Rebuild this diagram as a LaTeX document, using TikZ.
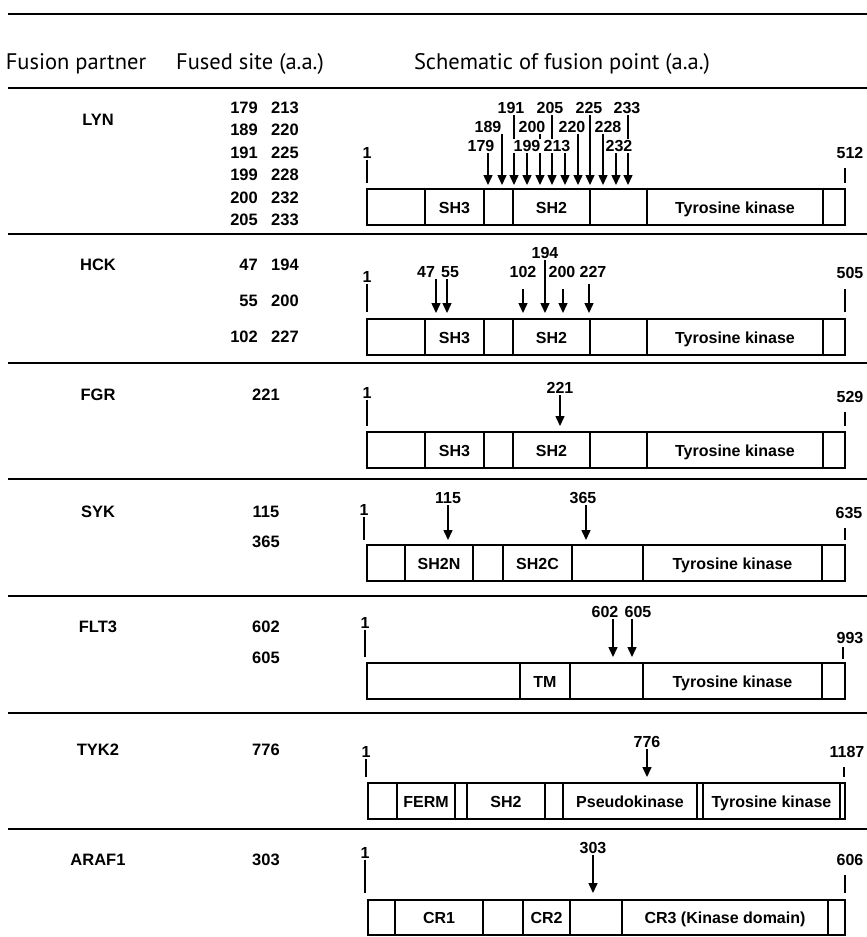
\documentclass[tikz,border=0pt]{standalone}
\usepackage{fontspec}
\setmainfont{Liberation Sans}
\newfontfamily\headfont{PT Sans}
\usetikzlibrary{arrows.meta}
\pgfdeclarelayer{back}
\pgfsetlayers{back,main}

\begin{document}
\begin{tikzpicture}[x=1pt, y=-1pt,
  rule/.style={line width=2.6pt},
  dom/.style={line width=1.5pt},
  head/.style={font=\headfont\fontsize{22.5}{25}\selectfont, inner sep=0pt, anchor=base},
  prot/.style={font=\bfseries\fontsize{16.5}{18}\selectfont, inner sep=0pt},
  site/.style={font=\bfseries\fontsize{16.5}{18}\selectfont, inner sep=0pt},
  num/.style={font=\bfseries\fontsize{16}{18}\selectfont, inner sep=1pt, fill=white},
  dlab/.style={font=\bfseries\fontsize{16}{18}\selectfont, inner sep=0pt, anchor=base},
  tick/.style={line width=1.5pt},
  arr/.style={line width=1.5pt, -{Triangle[width=9pt,length=10pt]}},
]
  \useasboundingbox (0,0) rectangle (867,937);

  % table rules
  \draw[rule] (8,14) -- (867,14);
  \draw[rule] (8,88) -- (867,88);
  \draw[rule] (8,234) -- (867,234);
  \draw[rule] (8,363) -- (867,363);
  \draw[rule] (8,479) -- (867,479);
  \draw[rule] (8,596) -- (867,596);
  \draw[rule] (8,713) -- (867,713);
  \draw[rule] (8,829) -- (867,829);

  % header
  \node[head] (hpart) at (76,69) {Fusion partner};
  \node[head] (hsite) at (250,69) {Fused site (a.a.)};
  \node[head] (hfig) at (562,69) {Schematic of fusion point (a.a.)};

  % ---- LYN
  \node[prot] (lyn) at (98,120) {LYN};
  \node[site, anchor=east] (lynA1) at (258,108) {179};
  \node[site, anchor=west] (lynB1) at (271,108) {213};
  \node[site, anchor=east] (lynA2) at (258,130) {189};
  \node[site, anchor=west] (lynB2) at (271,130) {220};
  \node[site, anchor=east] (lynA3) at (258,153) {191};
  \node[site, anchor=west] (lynB3) at (271,153) {225};
  \node[site, anchor=east] (lynA4) at (258,175) {199};
  \node[site, anchor=west] (lynB4) at (271,175) {228};
  \node[site, anchor=east] (lynA5) at (258,198) {200};
  \node[site, anchor=west] (lynB5) at (271,198) {232};
  \node[site, anchor=east] (lynA6) at (258,220) {205};
  \node[site, anchor=west] (lynB6) at (271,220) {233};

  \draw[dom] (367,189) rectangle (845,225);
  \draw[dom] (425,189) -- ++(0,36) (484,189) -- ++(0,36) (513,189) -- ++(0,36)
    (590,189) -- ++(0,36) (647,189) -- ++(0,36) (823,189) -- ++(0,36);
  \node[dlab] (lynSH3) at (454.5,213) {SH3};
  \node[dlab] (lynSH2) at (551.5,213) {SH2};
  \node[dlab] (lynTK) at (735,213) {Tyrosine kinase};

  \node[num] (lynN) at (367,153) {1};
  \coordinate (lynNt) at (367,183);
  \draw[tick] (lynN) -- (lynNt);
  \node[num] (lynC) at (850,153) {512};
  \coordinate (lynCt) at (845,183);
  \draw[tick, shorten <=8pt] (lynC.south -| lynCt) -- (lynCt);

  \node[num] (lynL191) at (511,108) {191};
  \node[num] (lynL205) at (550,108) {205};
  \node[num] (lynL225) at (589,108) {225};
  \node[num] (lynL233) at (627,108) {233};
  \node[num] (lynL189) at (488,127) {189};
  \node[num] (lynL200) at (532,127) {200};
  \node[num] (lynL220) at (572,127) {220};
  \node[num] (lynL228) at (608,127) {228};
  \node[num] (lynL179) at (481,146) {179};
  \node[num] (lynL199) at (527,146) {199};
  \node[num] (lynL213) at (557,146) {213};
  \node[num] (lynL232) at (619,146) {232};
  \coordinate (lynT179) at (488,185);
  \coordinate (lynT189) at (502,185);
  \coordinate (lynT191) at (514,185);
  \coordinate (lynT199) at (527,185);
  \coordinate (lynT200) at (540,185);
  \coordinate (lynT205) at (552,185);
  \coordinate (lynT213) at (565,185);
  \coordinate (lynT220) at (578,185);
  \coordinate (lynT225) at (590,185);
  \coordinate (lynT228) at (603,185);
  \coordinate (lynT232) at (616,185);
  \coordinate (lynT233) at (628,185);
  \begin{pgfonlayer}{back}
    \draw[arr] (lynL179.south -| lynT179) -- (lynT179);
    \draw[arr] (lynL189.south -| lynT189) -- (lynT189);
    \draw[arr] (lynL191.south -| lynT191) -- (lynT191);
    \draw[arr] (lynL199.south -| lynT199) -- (lynT199);
    \draw[arr] (lynL200.south -| lynT200) -- (lynT200);
    \draw[arr] (lynL205.south -| lynT205) -- (lynT205);
    \draw[arr] (lynL213.south -| lynT213) -- (lynT213);
    \draw[arr] (lynL220.south -| lynT220) -- (lynT220);
    \draw[arr] (lynL225.south -| lynT225) -- (lynT225);
    \draw[arr] (lynL228.south -| lynT228) -- (lynT228);
    \draw[arr] (lynL232.south -| lynT232) -- (lynT232);
    \draw[arr] (lynL233.south -| lynT233) -- (lynT233);
  \end{pgfonlayer}

  % ---- HCK
  \node[prot] (hck) at (98,265) {HCK};
  \node[site, anchor=east] (hckA1) at (258,265) {47};
  \node[site, anchor=west] (hckB1) at (271,265) {194};
  \node[site, anchor=east] (hckA2) at (258,301) {55};
  \node[site, anchor=west] (hckB2) at (271,301) {200};
  \node[site, anchor=east] (hckA3) at (258,337) {102};
  \node[site, anchor=west] (hckB3) at (271,337) {227};

  \draw[dom] (367,319) rectangle (845,355);
  \draw[dom] (425,319) -- ++(0,36) (484,319) -- ++(0,36) (513,319) -- ++(0,36)
    (590,319) -- ++(0,36) (647,319) -- ++(0,36) (823,319) -- ++(0,36);
  \node[dlab] (hckSH3) at (454.5,343) {SH3};
  \node[dlab] (hckSH2) at (551.5,343) {SH2};
  \node[dlab] (hckTK) at (735,343) {Tyrosine kinase};

  \node[num] (hckN) at (367,277) {1};
  \coordinate (hckNt) at (367,312);
  \draw[tick] (hckN) -- (hckNt);
  \node[num] (hckC) at (850,273) {505};
  \coordinate (hckCt) at (845,312);
  \draw[tick, shorten <=9pt] (hckC.south -| hckCt) -- (hckCt);

  \node[num] (hckL47) at (426,272) {47};
  \node[num] (hckL55) at (450,272) {55};
  \node[num] (hckL102) at (523,272) {102};
  \node[num] (hckL194) at (545,253) {194};
  \node[num] (hckL200) at (562,272) {200};
  \node[num] (hckL227) at (593,272) {227};
  \coordinate (hckT47) at (436,313);
  \coordinate (hckT55) at (447,313);
  \coordinate (hckT102) at (523,313);
  \coordinate (hckT194) at (545,313);
  \coordinate (hckT200) at (563,313);
  \coordinate (hckT227) at (589,313);
  \begin{pgfonlayer}{back}
    \draw[arr] (hckL47.south -| hckT47) -- (hckT47);
    \draw[arr] (hckL55.south -| hckT55) -- (hckT55);
    \draw[arr, shorten <=10pt] (hckL102.south -| hckT102) -- (hckT102);
    \draw[arr] (hckL194.south -| hckT194) -- (hckT194);
    \draw[arr, shorten <=10pt] (hckL200.south -| hckT200) -- (hckT200);
    \draw[arr, shorten <=5pt] (hckL227.south -| hckT227) -- (hckT227);
  \end{pgfonlayer}

  % ---- FGR
  \node[prot] (fgr) at (98,395) {FGR};
  \node[site] (fgrA1) at (266,395) {221};

  \draw[dom] (367,432) rectangle (845,468);
  \draw[dom] (425,432) -- ++(0,36) (484,432) -- ++(0,36) (513,432) -- ++(0,36)
    (590,432) -- ++(0,36) (647,432) -- ++(0,36) (823,432) -- ++(0,36);
  \node[dlab] (fgrSH3) at (454.5,456) {SH3};
  \node[dlab] (fgrSH2) at (551.5,456) {SH2};
  \node[dlab] (fgrTK) at (735,456) {Tyrosine kinase};

  \node[num] (fgrN) at (367,393) {1};
  \coordinate (fgrNt) at (367,426);
  \draw[tick] (fgrN) -- (fgrNt);
  \node[num] (fgrC) at (850,397) {529};
  \coordinate (fgrCt) at (845,426);
  \draw[tick, shorten <=8pt] (fgrC.south -| fgrCt) -- (fgrCt);

  \node[num] (fgrL221) at (560,388) {221};
  \coordinate (fgrT221) at (560,426);
  \begin{pgfonlayer}{back}
    \draw[arr] (fgrL221.south -| fgrT221) -- (fgrT221);
  \end{pgfonlayer}

  % ---- SYK
  \node[prot] (syk) at (98,512) {SYK};
  \node[site] (sykA1) at (266,512) {115};
  \node[site] (sykA2) at (266,542) {365};

  \draw[dom] (367,545) rectangle (845,581);
  \draw[dom] (405,545) -- ++(0,36) (473,545) -- ++(0,36) (503,545) -- ++(0,36)
    (572,545) -- ++(0,36) (643,545) -- ++(0,36) (822,545) -- ++(0,36);
  \node[dlab] (sykSH2N) at (439,569) {SH2N};
  \node[dlab] (sykSH2C) at (537.5,569) {SH2C};
  \node[dlab] (sykTK) at (732.5,569) {Tyrosine kinase};

  \node[num] (sykN) at (364,510) {1};
  \coordinate (sykNt) at (364,540);
  \draw[tick] (sykN) -- (sykNt);
  \node[num] (sykC) at (849,513) {635};
  \coordinate (sykCt) at (845,540);
  \draw[tick, shorten <=8pt] (sykC.south -| sykCt) -- (sykCt);

  \node[num] (sykL115) at (448,498) {115};
  \node[num] (sykL365) at (583,498) {365};
  \coordinate (sykT115) at (448,540);
  \coordinate (sykT365) at (586,540);
  \begin{pgfonlayer}{back}
    \draw[arr] (sykL115.south -| sykT115) -- (sykT115);
    \draw[arr] (sykL365.south -| sykT365) -- (sykT365);
  \end{pgfonlayer}

  % ---- FLT3
  \node[prot] (flt) at (98,627) {FLT3};
  \node[site] (fltA1) at (266,627) {602};
  \node[site] (fltA2) at (266,658) {605};

  \draw[dom] (367,663) rectangle (845,699);
  \draw[dom] (520,663) -- ++(0,36) (570,663) -- ++(0,36) (643,663) -- ++(0,36)
    (822,663) -- ++(0,36);
  \node[dlab] (fltTM) at (545,687) {TM};
  \node[dlab] (fltTK) at (732.5,687) {Tyrosine kinase};

  \node[num] (fltN) at (365,623) {1};
  \coordinate (fltNt) at (365,657);
  \draw[tick] (fltN) -- (fltNt);
  \node[num] (fltC) at (850,638) {993};
  \coordinate (fltCt) at (843,659);
  \draw[tick, shorten <=2pt] (fltC.south -| fltCt) -- (fltCt);

  \node[num] (fltL602) at (605,612) {602};
  \node[num] (fltL605) at (638,612) {605};
  \coordinate (fltT602) at (613,657);
  \coordinate (fltT605) at (632,657);
  \begin{pgfonlayer}{back}
    \draw[arr] (fltL602.south -| fltT602) -- (fltT602);
    \draw[arr] (fltL605.south -| fltT605) -- (fltT605);
  \end{pgfonlayer}

  % ---- TYK2
  \node[prot] (tyk) at (98,750) {TYK2};
  \node[site] (tykA1) at (266,750) {776};

  \draw[dom] (368,783) rectangle (845,819);
  \draw[dom] (397,783) -- ++(0,36) (455,783) -- ++(0,36) (467,783) -- ++(0,36)
    (545,783) -- ++(0,36) (563,783) -- ++(0,36) (697,783) -- ++(0,36)
    (703,783) -- ++(0,36) (840,783) -- ++(0,36);
  \node[dlab] (tykFERM) at (426,807) {FERM};
  \node[dlab] (tykSH2) at (506,807) {SH2};
  \node[dlab] (tykPK) at (630,807) {Pseudokinase};
  \node[dlab] (tykTK) at (771.5,807) {Tyrosine kinase};

  \node[num] (tykN) at (366,752) {1};
  \coordinate (tykNt) at (366,777);
  \draw[tick] (tykN) -- (tykNt);
  \node[num] (tykC) at (847,752) {1187};
  \coordinate (tykCt) at (844,777);
  \draw[tick, shorten <=8pt] (tykC.south -| tykCt) -- (tykCt);

  \node[num] (tykL776) at (647,742) {776};
  \coordinate (tykT776) at (647,777);
  \begin{pgfonlayer}{back}
    \draw[arr] (tykL776.south -| tykT776) -- (tykT776);
  \end{pgfonlayer}

  % ---- ARAF1
  \node[prot] (araf) at (98,860) {ARAF1};
  \node[site] (arafA1) at (266,860) {303};

  \draw[dom] (368,900) rectangle (845,935);
  \draw[dom] (395,900) -- ++(0,35) (483,900) -- ++(0,35) (523,900) -- ++(0,35)
    (570,900) -- ++(0,35) (622,900) -- ++(0,35) (828,900) -- ++(0,35);
  \node[dlab] (arafCR1) at (439,923) {CR1};
  \node[dlab] (arafCR2) at (546.5,923) {CR2};
  \node[dlab] (arafCR3) at (725,923) {CR3 (Kinase domain)};

  \node[num] (arafN) at (365,853) {1};
  \coordinate (arafNt) at (365,893);
  \draw[tick] (arafN) -- (arafNt);
  \node[num] (arafC) at (850,860) {606};
  \coordinate (arafCt) at (845,893);
  \draw[tick, shorten <=8pt] (arafC.south -| arafCt) -- (arafCt);

  \node[num] (arafL303) at (593,848) {303};
  \coordinate (arafT303) at (593,893);
  \begin{pgfonlayer}{back}
    \draw[arr] (arafL303.south -| arafT303) -- (arafT303);
  \end{pgfonlayer}
\end{tikzpicture}
\end{document}
